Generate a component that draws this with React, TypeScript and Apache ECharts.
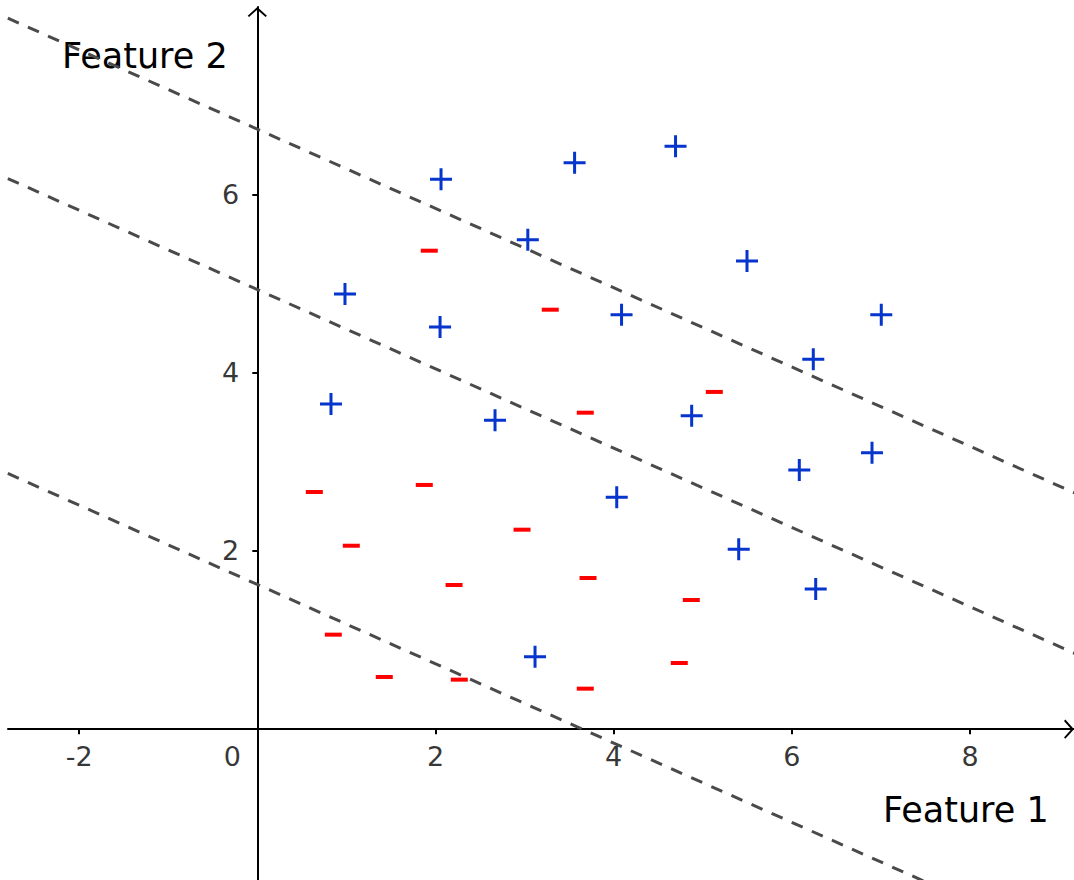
import React, { useEffect, useRef } from "react";
import * as echarts from "echarts";

// ---- data ----
const xTicks = [-2, 2, 4, 6, 8];
const yTicks = [2, 4, 6];
const originLabel = "0";
const xAxisName = "Feature 1";
const yAxisName = "Feature 2";

const xRange = [-2.798, 9.166];
const yRange = [-1.6925, 8.105];

const plusPoints: [number, number][] = [
  [2.062, 6.172],
  [3.561, 6.358],
  [4.694, 6.542],
  [3.036, 5.493],
  [5.496, 5.255],
  [0.984, 4.884],
  [2.051, 4.514],
  [4.088, 4.652],
  [7.003, 4.652],
  [6.24, 4.151],
  [0.827, 3.65],
  [2.668, 3.467],
  [4.875, 3.518],
  [6.083, 2.909],
  [6.899, 3.103],
  [4.034, 2.603],
  [5.403, 2.019],
  [6.267, 1.574],
  [3.117, 0.814],
];

const minusPoints: [number, number][] = [
  [1.93, 5.37],
  [3.288, 4.708],
  [3.681, 3.552],
  [5.129, 3.785],
  [0.64, 2.662],
  [1.874, 2.741],
  [2.971, 2.239],
  [1.055, 2.059],
  [2.208, 1.618],
  [3.712, 1.697],
  [4.871, 1.45],
  [0.853, 1.061],
  [1.425, 0.586],
  [2.267, 0.556],
  [3.681, 0.455],
  [4.736, 0.743],
];

// three parallel dashed boundary lines (endpoints)
const upperLine: [number, number][] = [[-2.8, 7.98], [9.2, 2.64]];
const middleLine: [number, number][] = [[-2.8, 6.18], [9.2, 0.84]];
const lowerLine: [number, number][] = [[-2.8, 2.87], [9.2, -2.47]];

const PLUS = "path://M0,9.5H22V12.5H0Z M9.5,0H12.5V22H9.5Z";
const ARROW = "path://M10,0L20,9L18.6,10.4L10,2.8L1.4,10.4L0,9Z";

const FONT = "DejaVu Sans";
const TICK_FONT = 27;

export default function App() {
  const ref = useRef<HTMLDivElement>(null);
  useEffect(() => {
    if (!ref.current) return;
    const chart = echarts.init(ref.current, undefined, { renderer: "svg" });
    const axisCommon = {
      type: "value" as const,
      splitLine: { show: false },
      axisLabel: { show: false },
      axisLine: {
        show: true,
        onZero: true,
        lineStyle: { color: "#000", width: 2 },
        symbol: ["none", ARROW],
        symbolSize: [20, 10],
        symbolOffset: [0, -5],
      },
    };
    const dashStyle = { color: "#4a4a4a", width: 3, type: [12, 10] as any };
    const tickLabelStyle = {
      show: true,
      fontSize: TICK_FONT,
      fontFamily: FONT,
      fontWeight: "normal",
      color: "#000",
    };
    const option: any = {
      animation: false,
      backgroundColor: "#ffffff",
      grid: {
        left: 8,
        right: 0,
        top: 7,
        bottom: 0,
        containLabel: false,
        outerBoundsMode: "none",
      },
      xAxis: {
        ...axisCommon,
        min: xRange[0],
        max: xRange[1],
        axisTick: {
          show: true,
          length: 5,
          lineStyle: { color: "#000", width: 2 },
          customValues: xTicks,
        },
      },
      yAxis: {
        ...axisCommon,
        min: yRange[0],
        max: yRange[1],
        axisTick: {
          show: true,
          length: 5,
          lineStyle: { color: "#000", width: 2 },
          customValues: yTicks,
        },
      },
      graphic: [
        {
          type: "text",
          left: 62,
          top: 38,
          style: { text: yAxisName, fontSize: 35, fontFamily: FONT, fill: "#000" },
        },
        {
          type: "text",
          left: 883,
          top: 792,
          style: { text: xAxisName, fontSize: 35, fontFamily: FONT, fill: "#000" },
        },
      ],
      series: [
        {
          type: "scatter",
          data: plusPoints,
          symbol: PLUS,
          symbolSize: 22,
          itemStyle: { color: "#0535cc", opacity: 1 },
          z: 2,
          silent: true,
        },
        {
          type: "scatter",
          data: minusPoints,
          symbol: "rect",
          symbolSize: [17, 4],
          itemStyle: { color: "#ff0000", opacity: 1 },
          z: 2,
          silent: true,
        },
        ...[upperLine, middleLine, lowerLine].map((d) => ({
          type: "line",
          data: d,
          showSymbol: false,
          symbol: "none",
          clip: true,
          lineStyle: dashStyle,
          z: 3,
          silent: true,
        })),
        // x tick labels
        {
          type: "scatter",
          data: xTicks.map((v) => [v, 0]),
          symbolSize: 0,
          silent: true,
          z: 5,
          label: {
            ...tickLabelStyle,
            position: "inside",
            offset: [0, 27],
            formatter: (p: any) => String(p.value[0]),
          },
        },
        // y tick labels
        {
          type: "scatter",
          data: yTicks.map((v) => [0, v]),
          symbolSize: 0,
          silent: true,
          z: 5,
          label: {
            ...tickLabelStyle,
            position: "left",
            distance: 18,
            formatter: (p: any) => String(p.value[1]),
          },
        },
        // origin label
        {
          type: "scatter",
          data: [[0, 0]],
          symbolSize: 0,
          silent: true,
          z: 5,
          label: {
            ...tickLabelStyle,
            position: "inside",
            offset: [-25, 27],
            formatter: () => originLabel,
          },
        },
      ],
    };
    chart.setOption(option);
    return () => chart.dispose();
  }, []);
  return (
    <div
      ref={ref}
      style={{ position: "fixed", left: 0, top: 0, width: 1074, height: 880 }}
    />
  );
}
